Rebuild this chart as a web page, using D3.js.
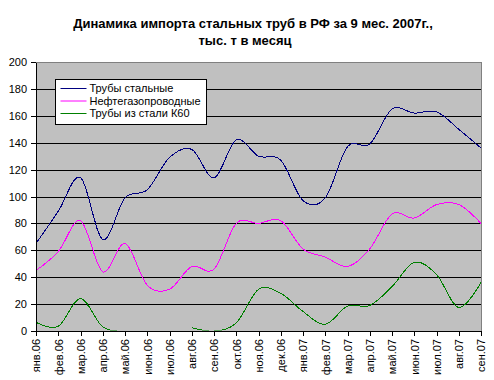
<!DOCTYPE html>
<html>
<head>
<meta charset="utf-8">
<script src="https://cdn.jsdelivr.net/npm/d3@7"></script>
<style>
  body { margin: 0; background: #fff; }
  svg text { font-family: Arial, "Liberation Sans", sans-serif; }
</style>
</head>
<body>
<div id="chart"></div>
<script>
// ---------- data ----------
var months = ["янв.06", "фев.06", "мар.06", "апр.06", "май.06", "июн.06", "июл.06",
              "авг.06", "сен.06", "окт.06", "ноя.06", "дек.06", "янв.07", "фев.07",
              "мар.07", "апр.07", "май.07", "июн.07", "июл.07", "авг.07", "сен.07"];
var steelPipes = [65, 89, 114, 68, 99, 105, 129, 135, 114, 142, 130, 127, 97, 99,
                  137, 139, 165, 162, 163, 150, 136];
var oilGasPipes = [45, 59, 82, 44, 65, 34, 31, 48, 46, 80, 80, 82, 61, 55,
                   48, 61, 87, 84, 94, 94, 80];
var k60Pipes = [6.5, 3.5, 24, 3, 0, null, null, 2.5, 0, 6, 31, 28, 14.5, 5,
                18.5, 19, 33, 51, 42, 17.5, 36];
var yTicks = [0, 20, 40, 60, 80, 100, 120, 140, 160, 180, 200];
var seriesNames = ["Трубы стальные", "Нефтегазопроводные", "Трубы из стали К60"];
var seriesColors = ["#000080", "#ff00ff", "#008000"];

var width = 494, height = 380;
var plot = { left: 36, right: 481, top: 62, bottom: 331 };

var svg = d3.select("#chart")
  .append("svg")
  .attr("width", width)
  .attr("height", height);

// ---------- title ----------
svg.append("text")
   .attr("x", 253).attr("y", 28)
   .attr("text-anchor", "middle")
   .style("font-size", "13px").style("font-weight", "bold")
   .text("Динамика импорта стальных труб в РФ за 9 мес. 2007г.,");
svg.append("text")
   .attr("x", 245).attr("y", 45)
   .attr("text-anchor", "middle")
   .style("font-size", "13px").style("font-weight", "bold")
   .text("тыс. т в месяц");

// ---------- scales ----------
var x = d3.scalePoint()
          .domain(months)
          .range([plot.left, plot.right]);
var y = d3.scaleLinear()
          .domain([0, 200])
          .range([plot.bottom, plot.top]);

// plot background
svg.append("rect")
   .attr("x", plot.left).attr("y", plot.top)
   .attr("width", plot.right - plot.left)
   .attr("height", plot.bottom - plot.top)
   .attr("fill", "#c0c0c0")
   .attr("stroke", "#808080")
   .attr("shape-rendering", "crispEdges");

// gridlines
svg.append("g")
   .selectAll("line")
   .data(yTicks.filter(function(d) { return d > 0 && d < 200; }))
   .enter().append("line")
   .attr("x1", plot.left).attr("x2", plot.right)
   .attr("y1", function(d) { return Math.round(y(d)) + 0.5; })
   .attr("y2", function(d) { return Math.round(y(d)) + 0.5; })
   .attr("stroke", "#000")
   .attr("stroke-width", 1);

// clip so zero values disappear under the axis, like the original
svg.append("clipPath").attr("id", "plotclip")
   .append("rect")
   .attr("x", plot.left).attr("y", plot.top)
   .attr("width", plot.right - plot.left)
   .attr("height", plot.bottom - plot.top - 0.5);

// ---------- lines ----------
var line = d3.line()
  .defined(function(d) { return d[1] != null; })
  .x(function(d) { return x(d[0]); })
  .y(function(d) { return y(d[1]); })
  .curve(d3.curveCardinal.tension(0));

[steelPipes, oilGasPipes, k60Pipes].forEach(function(values, i) {
  svg.append("path")
     .datum(months.map(function(m, j) { return [m, values[j]]; }))
     .attr("clip-path", "url(#plotclip)")
     .attr("fill", "none")
     .attr("stroke", seriesColors[i])
     .attr("stroke-width", 1)
     .attr("shape-rendering", "crispEdges")
     .attr("d", line);
});

// ---------- axes ----------
var yAxis = svg.append("g")
   .attr("transform", "translate(" + plot.left + ",0)")
   .call(d3.axisLeft(y).tickValues(yTicks).tickSize(5).tickSizeOuter(0).tickPadding(4));
yAxis.selectAll("text").style("font-size", "11px").attr("fill", "#000");

var xAxis = svg.append("g")
   .attr("transform", "translate(0," + plot.bottom + ")")
   .call(d3.axisBottom(x).tickSize(5).tickSizeOuter(0));
xAxis.selectAll("text")
     .style("font-size", "11px")
     .attr("fill", "#000")
     .attr("transform", "rotate(-90)")
     .attr("x", -8)
     .attr("y", 0)
     .attr("dy", "0.35em")
     .style("text-anchor", "end");

svg.selectAll(".domain, .tick line")
   .attr("stroke", "#000")
   .attr("shape-rendering", "crispEdges");

// ---------- legend ----------
var legend = svg.append("g").attr("transform", "translate(55.5,79.5)");
legend.append("rect")
      .attr("width", 151).attr("height", 45)
      .attr("fill", "#fff").attr("stroke", "#000");
seriesNames.forEach(function(name, i) {
  var ly = 9 + i * 12.5;
  legend.append("line")
        .attr("x1", 5).attr("x2", 31)
        .attr("y1", ly).attr("y2", ly)
        .attr("stroke", seriesColors[i]);
  legend.append("text")
        .attr("x", 34).attr("y", ly)
        .attr("dy", "0.35em")
        .style("font-size", "11px")
        .text(name);
});
</script>
</body>
</html>
